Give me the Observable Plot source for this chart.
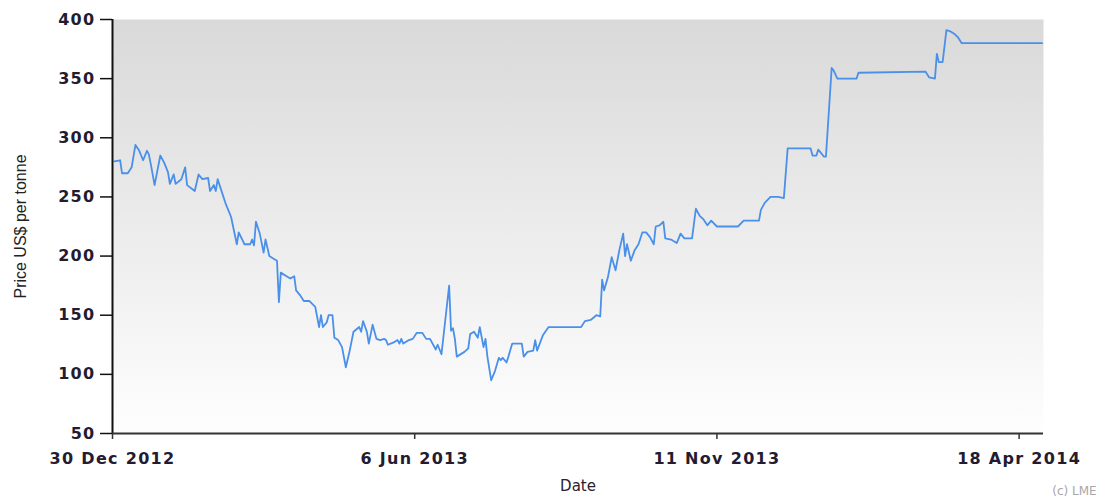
<!DOCTYPE html>
<html>
<head>
<meta charset="utf-8">
<script src="https://cdn.jsdelivr.net/npm/d3@7"></script>
<script src="https://cdn.jsdelivr.net/npm/@observablehq/plot@0.6"></script>
<style>
  html, body { margin: 0; padding: 0; background: #fff; }
  #chart { width: 1113px; height: 502px; }
  [aria-label="y-axis tick label"] text, [aria-label="x-axis tick label"] text { letter-spacing: 1.3px; }
</style>
</head>
<body>
<div id="chart"></div>
<script>
const dates = [
  "2012-12-31","2013-01-03","2013-01-04","2013-01-07","2013-01-09","2013-01-11","2013-01-13","2013-01-15","2013-01-17","2013-01-18",
  "2013-01-19","2013-01-21","2013-01-24","2013-01-26","2013-01-28","2013-01-29","2013-01-31","2013-02-01","2013-02-04","2013-02-06",
  "2013-02-07","2013-02-11","2013-02-13","2013-02-15","2013-02-18","2013-02-19","2013-02-21","2013-02-22","2013-02-23","2013-02-24",
  "2013-02-27","2013-03-02","2013-03-05","2013-03-06","2013-03-09","2013-03-12","2013-03-13","2013-03-14","2013-03-15","2013-03-17",
  "2013-03-19","2013-03-20","2013-03-22","2013-03-24","2013-03-26","2013-03-27","2013-03-28","2013-03-31","2013-04-02","2013-04-04",
  "2013-04-05","2013-04-07","2013-04-09","2013-04-12","2013-04-15","2013-04-17","2013-04-18","2013-04-19","2013-04-21","2013-04-22",
  "2013-04-24","2013-04-25","2013-04-27","2013-04-29","2013-05-01","2013-05-03","2013-05-05","2013-05-08","2013-05-09","2013-05-10",
  "2013-05-12","2013-05-13","2013-05-15","2013-05-17","2013-05-19","2013-05-21","2013-05-22","2013-05-23","2013-05-26","2013-05-28",
  "2013-05-29","2013-05-30","2013-05-31","2013-06-03","2013-06-05","2013-06-07","2013-06-10","2013-06-12","2013-06-14","2013-06-17",
  "2013-06-18","2013-06-20","2013-06-24","2013-06-25","2013-06-26","2013-06-27","2013-06-28","2013-07-02","2013-07-04","2013-07-05",
  "2013-07-07","2013-07-09","2013-07-10","2013-07-12","2013-07-13","2013-07-14","2013-07-16","2013-07-18","2013-07-20","2013-07-21",
  "2013-07-22","2013-07-24","2013-07-25","2013-07-27","2013-08-01","2013-08-02","2013-08-04","2013-08-07","2013-08-08","2013-08-09",
  "2013-08-12","2013-08-15","2013-09-01","2013-09-03","2013-09-06","2013-09-09","2013-09-11","2013-09-12","2013-09-13","2013-09-15",
  "2013-09-17","2013-09-19","2013-09-21","2013-09-23","2013-09-24","2013-09-25","2013-09-27","2013-09-29","2013-10-01","2013-10-03",
  "2013-10-05","2013-10-07","2013-10-09","2013-10-10","2013-10-12","2013-10-14","2013-10-15","2013-10-18","2013-10-21","2013-10-23",
  "2013-10-25","2013-10-29","2013-10-31","2013-11-02","2013-11-04","2013-11-06","2013-11-08","2013-11-11","2013-11-22","2013-11-25",
  "2013-12-03","2013-12-04","2013-12-06","2013-12-09","2013-12-13","2013-12-16","2013-12-18","2013-12-30","2013-12-31","2014-01-02",
  "2014-01-03","2014-01-06","2014-01-07","2014-01-10","2014-01-11","2014-01-13","2014-01-23","2014-01-24","2014-02-28","2014-03-02",
  "2014-03-05","2014-03-06","2014-03-07","2014-03-09","2014-03-11","2014-03-13","2014-03-15","2014-03-17","2014-03-19","2014-04-30"
];
const prices = [
  280,281,270,270,275,294,289,281,289,286,
  278,260,285,279,271,261,269,261,265,275,
  260,255,269,265,266,255,260,255,265,260,
  245,233,210,220,210,210,214,209,229,219,
  203,214,200,198,196,161,186,183,181,183,
  171,167,162,162,157,140,150,140,144,150,
  150,131,129,123,106,120,136,140,136,145,
  136,126,142,130,129,130,129,125,127,129,
  126,130,126,129,130,135,135,130,130,121,
  125,117,175,137,139,130,115,119,122,134,
  136,131,140,123,130,115,95,103,114,112,
  114,110,115,126,126,115,119,120,129,120,
  133,140,140,145,146,150,149,180,171,182,
  199,188,205,219,200,210,196,205,210,220,
  220,216,210,225,226,229,215,214,211,219,
  215,215,240,234,231,226,230,225,225,230,
  230,239,245,250,250,249,291,291,285,285,
  290,284,284,359,357,350,350,355,356,351,
  350,371,364,364,391,390,388,385,380,380
];
const yTicks = [50, 100, 150, 200, 250, 300, 350, 400];
const xTickDates = ["2012-12-30", "2013-06-06", "2013-11-11", "2014-04-18"];
const yLabel = "Price US$ per tonne";
const xLabel = "Date";
const credit = "(c) LME";

const data = dates.map((d, i) => ({date: new Date(d), price: prices[i]}));

const defsMark = () => {
  const defs = d3.create("svg:defs");
  const g = defs.append("linearGradient").attr("id", "bgGrad")
    .attr("x1", 0).attr("y1", 0).attr("x2", 0).attr("y2", 1);
  g.append("stop").attr("offset", "0%").attr("stop-color", "#d9d9d9");
  g.append("stop").attr("offset", "100%").attr("stop-color", "#fefefe");
  return defs.node();
};

const tickColor = "#231b30";

const chart = Plot.plot({
  width: 1113,
  height: 502,
  marginLeft: 112,
  marginRight: 70,
  marginTop: 19,
  marginBottom: 69,
  style: {fontFamily: "DejaVu Sans, Verdana, sans-serif", background: "white", overflow: "visible"},
  x: {type: "utc", domain: [new Date("2012-12-30"), new Date("2014-04-30T18:00Z")]},
  y: {domain: [50, 400]},
  marks: [
    defsMark,
    Plot.frame({fill: "url(#bgGrad)", stroke: null}),
    Plot.line(data, {x: "date", y: "price", stroke: "#4a90e8", strokeWidth: 1.8}),
    Plot.axisY({ticks: yTicks, tickSize: 12, tickPadding: 5, fontSize: 16, fontWeight: "bold",
      stroke: "#111", strokeWidth: 1.5, color: tickColor, label: null}),
    Plot.axisX({ticks: xTickDates.map(d => new Date(d)), tickFormat: d3.utcFormat("%-d %b %Y"),
      tickSize: 6, tickPadding: 13, fontSize: 16, fontWeight: "bold", stroke: "#333", strokeWidth: 1.5,
      color: tickColor, label: null}),
    Plot.ruleX([new Date("2012-12-30")], {stroke: "#111", strokeWidth: 2}),
    Plot.ruleY([50], {stroke: "#333", strokeWidth: 2}),
    Plot.text([yLabel], {frameAnchor: "left", text: d => d, rotate: -90, dx: -92, textAnchor: "middle",
      fontFamily: "Liberation Sans Narrow, Liberation Sans, sans-serif", fontSize: 16, fill: "#222"}),
    Plot.text([xLabel], {frameAnchor: "bottom", text: d => d, dy: 57, textAnchor: "middle",
      fontFamily: "DejaVu Sans, sans-serif", fontSize: 15, fill: "#2a2030"}),
    Plot.text([credit], {frameAnchor: "bottom-right", text: d => d, dx: 31, dy: 61, textAnchor: "middle",
      fontFamily: "DejaVu Sans, sans-serif", fontSize: 12, fill: "#a8a8a8"})
  ]
});
document.getElementById("chart").appendChild(chart);
</script>
</body>
</html>
